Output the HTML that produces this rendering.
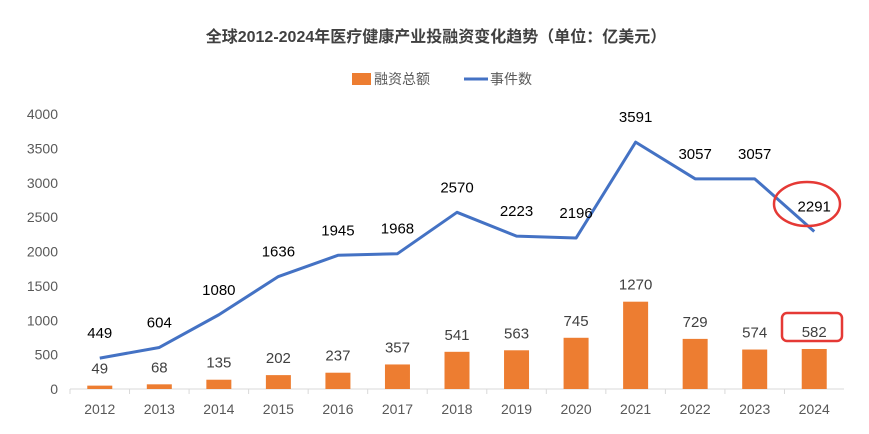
<!DOCTYPE html>
<html><head><meta charset="utf-8"><style>
body{margin:0;background:#fff;}
svg{display:block;font-family:"Liberation Sans","Noto Sans CJK SC",sans-serif;}
</style></head><body>
<svg id="chart" width="869" height="434">
<text x="436" y="42" text-anchor="middle" font-size="16" font-weight="bold" fill="#404040">全球2012-2024年医疗健康产业投融资变化趋势（单位：亿美元）</text>
<g>
<rect x="352" y="73" width="19" height="12" fill="#ED7D31"/>
<text x="374" y="84" font-size="14" fill="#595959">融资总额</text>
<line x1="464" y1="79" x2="488" y2="79" stroke="#4472C4" stroke-width="3"/>
<text x="490" y="84" font-size="14" fill="#595959">事件数</text>
</g>
<g id="axes"></g><g id="bars"></g><g id="line"></g><g id="labels"></g>
<ellipse cx="807" cy="204" rx="33" ry="22" fill="none" stroke="#E53935" stroke-width="2.5"/>
<rect x="782" y="313" width="60" height="28" rx="5" fill="none" stroke="#E53935" stroke-width="2.5"/>
</svg>
<script>
const categories=["2012","2013","2014","2015","2016","2017","2018","2019","2020","2021","2022","2023","2024"];
const funding=[49,68,135,202,237,357,541,563,745,1270,729,574,582];
const events=[449,604,1080,1636,1945,1968,2570,2223,2196,3591,3057,3057,2291];
const yTicks=[0,500,1000,1500,2000,2500,3000,3500,4000];
const NS="http://www.w3.org/2000/svg";
const x0=70,x1=844,yBase=389,yTop=114,yMax=4000;
const step=(x1-x0)/categories.length;
const xc=i=>x0+step*(i+0.5);
const y=v=>yBase-(yBase-yTop)*v/yMax;
function mk(tag,attrs,parent){const e=document.createElementNS(NS,tag);for(const k in attrs)e.setAttribute(k,attrs[k]);document.getElementById(parent).appendChild(e);return e;}
yTicks.forEach(t=>{const e=mk('text',{x:58,y:y(t)+5,'text-anchor':'end','font-size':14,fill:'#595959'},'axes');e.textContent=t;

});
const ax=mk('line',{x1:x0,y1:yBase,x2:x1,y2:yBase,stroke:'#D9D9D9','stroke-width':1},'axes');


categories.forEach((c,i)=>{
const tk=mk('line',{x1:x0+step*i,y1:yBase,x2:x0+step*i,y2:yBase+5,stroke:'#D9D9D9'},'axes');


const t=mk('text',{x:xc(i),y:414,'text-anchor':'middle','font-size':14,fill:'#595959'},'axes');t.textContent=c;


const b=mk('rect',{x:xc(i)-12.5,y:y(funding[i]),width:25,height:yBase-y(funding[i]),fill:'#ED7D31'},'bars');


const bl=mk('text',{x:xc(i),y:y(funding[i])-12,'text-anchor':'middle','font-size':15,fill:'#404040'},'labels');bl.textContent=funding[i];


const ll=mk('text',{x:xc(i),y:y(events[i])-20,'text-anchor':'middle','font-size':15,fill:'#000'},'labels');ll.textContent=events[i];


});
const pl=mk('polyline',{points:events.map((v,i)=>xc(i)+','+y(v)).join(' '),fill:'none',stroke:'#4472C4','stroke-width':3,'stroke-linejoin':'round'},'line');


</script>
</body></html>
